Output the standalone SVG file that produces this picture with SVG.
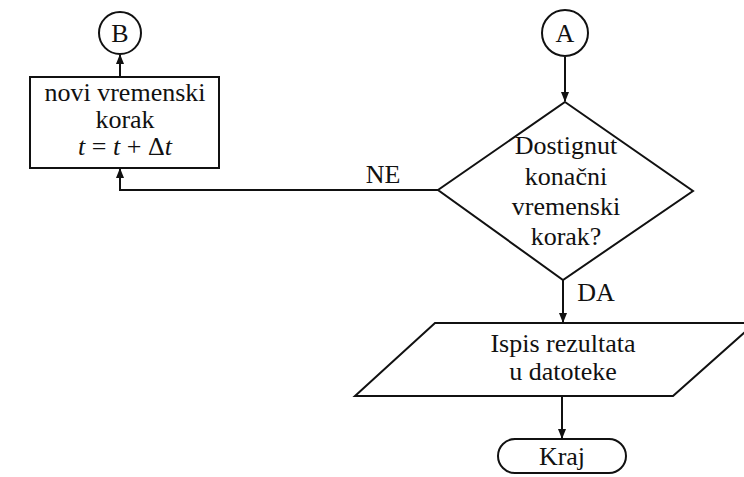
<svg xmlns="http://www.w3.org/2000/svg" width="744" height="477" viewBox="0 0 744 477">
<style>
.s{fill:none;stroke:#111;stroke-width:2}
.n{fill:#fff;stroke:#111;stroke-width:2}
text{font-family:"Liberation Serif","Times New Roman",serif;font-size:26px;fill:#111;text-anchor:middle}
.i{font-style:italic}
</style>
<defs>
<marker id="ar" markerWidth="10" markerHeight="8" refX="9" refY="4" orient="auto" markerUnits="userSpaceOnUse">
<path d="M0,0 L10,4 L0,8 Z" fill="#111"/>
</marker>
</defs>
<rect width="744" height="477" fill="#fff"/>
<g id="connectors">
<line class="s" x1="120" y1="77" x2="120" y2="55" marker-end="url(#ar)"/>
<polyline class="s" points="438,190 120,190 120,169" marker-end="url(#ar)"/>
<line class="s" x1="565" y1="57" x2="565" y2="101" marker-end="url(#ar)"/>
<line class="s" x1="563" y1="280" x2="563" y2="322" marker-end="url(#ar)"/>
<line class="s" x1="562" y1="396" x2="562" y2="438" marker-end="url(#ar)"/>
<text x="383" y="183">NE</text>
<text x="596" y="301">DA</text>
</g>
<g id="B">
<circle class="n" cx="120" cy="33" r="21"/>
<text x="120" y="42">B</text>
</g>
<g id="korak">
<rect class="n" x="30" y="77" width="189" height="91"/>
<text x="125" y="101">novi vremenski</text>
<text x="125" y="128">korak</text>
<text x="125" y="155"><tspan class="i">t</tspan> = <tspan class="i">t</tspan> + Δ<tspan class="i">t</tspan></text>
</g>
<g id="A">
<circle class="n" cx="565" cy="33" r="23"/>
<text x="565" y="42">A</text>
</g>
<g id="odluka">
<polygon class="n" points="565,102 693,191 563,280 438,190"/>
<text x="566" y="154">Dostignut</text>
<text x="566" y="185">konačni</text>
<text x="566" y="215">vremenski</text>
<text x="566" y="245">korak?</text>
</g>
<g id="ispis">
<polygon class="n" points="435,323 755,323 673,396 355,396"/>
<text x="563" y="352">Ispis rezultata</text>
<text x="563" y="380">u datoteke</text>
</g>
<g id="kraj">
<rect class="n" x="498" y="439" width="128" height="34" rx="17" ry="17"/>
<text x="562" y="465">Kraj</text>
</g>
</svg>
